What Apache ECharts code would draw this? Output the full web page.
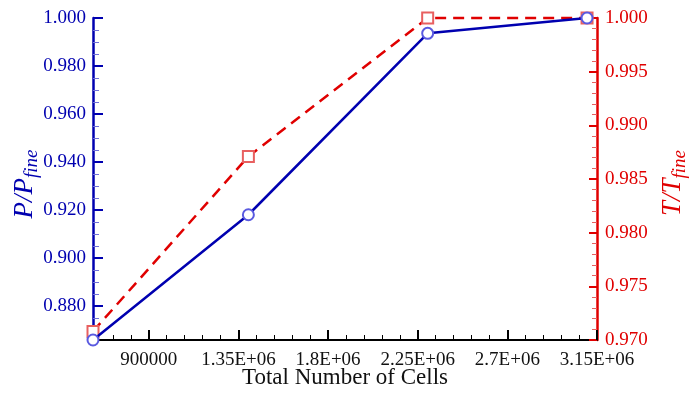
<!DOCTYPE html>
<html><head><meta charset="utf-8">
<script src="https://cdn.jsdelivr.net/npm/echarts@6/dist/echarts.min.js"></script>
<style>html,body{margin:0;padding:0;background:#fff}#c{width:689px;height:396px}</style>
</head><body><div id="c"></div>
<script>
const cells = [620000, 1400000, 2300000, 3100000];
const pRatio = [0.8658, 0.918, 0.9936, 1.000];
const tRatio = [0.9708, 0.9871, 1.000, 1.000];
const xTickValues = [900000, 1350000, 1800000, 2250000, 2700000, 3150000];
const xTickLabels = ['900000', '1.35E+06', '1.8E+06', '2.25E+06', '2.7E+06', '3.15E+06'];
const xMinorValues = [630000, 720000, 810000, 990000, 1080000, 1170000, 1260000, 1440000, 1530000, 1620000, 1710000, 1890000, 1980000, 2070000, 2160000, 2340000, 2430000, 2520000, 2610000, 2790000, 2880000, 2970000, 3060000];
const pTickValues = [0.88, 0.90, 0.92, 0.94, 0.96, 0.98, 1.00];
const pMinorValues = [0.870, 0.875, 0.885, 0.890, 0.895, 0.905, 0.910, 0.915, 0.925, 0.930, 0.935, 0.945, 0.950, 0.955, 0.965, 0.970, 0.975, 0.985, 0.990, 0.995];

const BLUE = '#0000b0';
const RED = '#e00000';
const FONT = 'Liberation Serif';
const X_MIN = 620000, X_MAX = 3150000;
const P_MIN = 0.8658, P_MAX = 1.0;

const chart = echarts.init(document.getElementById('c'), null, {renderer: 'canvas'});
const xLabelMap = {};
xTickValues.forEach((v, i) => { xLabelMap[v] = xTickLabels[i]; });

chart.setOption({
  animation: false,
  backgroundColor: '#fff',
  grid: {left: 93, right: 92, top: 18, bottom: 56, containLabel: false, outerBoundsMode: 'none'},
  xAxis: [{
    type: 'value', min: X_MIN, max: X_MAX, position: 'bottom',
    axisLine: {show: true, onZero: false, lineStyle: {color: '#000', width: 2}},
    axisTick: {show: true, inside: true, length: 10, customValues: xTickValues, lineStyle: {color: '#000', width: 2}},
    axisLabel: {show: true, customValues: xTickValues, margin: 11, color: '#111', fontFamily: FONT, fontSize: 19,
      formatter: v => xLabelMap[v] !== undefined ? xLabelMap[v] : ''},
    splitLine: {show: false},
    name: 'Total Number of Cells', nameLocation: 'middle', nameGap: 26, nameMoveOverlap: false,
    nameTextStyle: {color: '#111', fontFamily: FONT, fontSize: 23}
  }, {
    type: 'value', min: X_MIN, max: X_MAX, position: 'bottom',
    axisLine: {show: false},
    axisTick: {show: true, inside: true, length: 5, customValues: xMinorValues, lineStyle: {color: '#000', width: 1}},
    axisLabel: {show: false},
    splitLine: {show: false}
  }],
  yAxis: [{
    type: 'value', min: P_MIN, max: P_MAX, position: 'left',
    axisLine: {show: true, onZero: false, lineStyle: {color: BLUE, width: 2.5}},
    axisTick: {show: true, inside: true, length: 10, customValues: pTickValues, lineStyle: {color: BLUE, width: 2}},
    axisLabel: {show: true, customValues: pTickValues, margin: 7, color: BLUE, fontFamily: FONT, fontSize: 19,
      formatter: v => v.toFixed(3)},
    splitLine: {show: false}
  }, {
    type: 'value', min: 0.97, max: 1.0, interval: 0.005, position: 'right',
    axisLine: {show: true, onZero: false, lineStyle: {color: RED, width: 2.5}},
    axisTick: {show: true, inside: true, length: 8, lineStyle: {color: RED, width: 2}},
    minorTick: {show: true, splitNumber: 5, length: 5, lineStyle: {color: '#e86060', width: 1}},
    axisLabel: {show: true, margin: 8, color: RED, fontFamily: FONT, fontSize: 19,
      formatter: v => v.toFixed(3)},
    splitLine: {show: false}, minorSplitLine: {show: false}
  }, {
    type: 'value', min: P_MIN, max: P_MAX, position: 'left',
    axisLine: {show: false},
    axisTick: {show: true, inside: true, length: 6, customValues: pMinorValues, lineStyle: {color: '#7070d8', width: 1}},
    axisLabel: {show: false},
    splitLine: {show: false}
  }],
  series: [{
    type: 'line', xAxisIndex: 0, yAxisIndex: 1, clip: false,
    data: cells.map((c, i) => [c, tRatio[i]]),
    lineStyle: {color: RED, width: 2.5, type: [11, 7]},
    symbol: 'emptyRect', symbolSize: 11,
    itemStyle: {color: '#e86060', borderColor: '#e86060', borderWidth: 1},
    z: 2
  }, {
    type: 'line', xAxisIndex: 0, yAxisIndex: 0, clip: false,
    data: cells.map((c, i) => [c, pRatio[i]]),
    lineStyle: {color: BLUE, width: 2.5},
    symbol: 'emptyCircle', symbolSize: 11,
    itemStyle: {color: '#5a5ae0', borderColor: '#5a5ae0', borderWidth: 1},
    z: 3
  }],
  graphic: [{
    type: 'text', x: 25, y: 184, rotation: Math.PI / 2,
    style: {
      text: '{a|P/P}{b|fine}', align: 'center', verticalAlign: 'middle',
      rich: {
        a: {fontFamily: FONT, fontSize: 27, fontStyle: 'italic', fill: BLUE, color: BLUE},
        b: {fontFamily: FONT, fontSize: 19, fontStyle: 'italic', fill: BLUE, color: BLUE, padding: [13, 0, 0, 0]}
      }
    }
  }, {
    type: 'text', x: 673, y: 183, rotation: Math.PI / 2,
    style: {
      text: '{a|T/T}{b|fine}', align: 'center', verticalAlign: 'middle',
      rich: {
        a: {fontFamily: FONT, fontSize: 27, fontStyle: 'italic', fill: RED, color: RED},
        b: {fontFamily: FONT, fontSize: 19, fontStyle: 'italic', fill: RED, color: RED, padding: [13, 0, 0, 0]}
      }
    }
  }]
});
</script></body></html>
